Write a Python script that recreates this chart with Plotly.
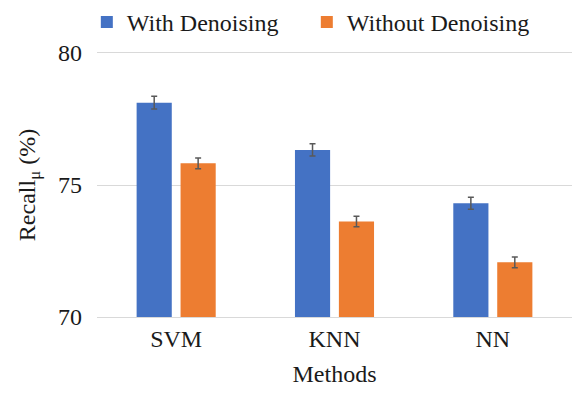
import plotly.graph_objects as go

methods = ["SVM", "KNN", "NN"]
with_denoising = [78.12, 76.33, 74.31]
with_denoising_err = [0.24, 0.23, 0.23]
without_denoising = [75.82, 73.62, 72.07]
without_denoising_err = [0.2, 0.2, 0.2]

serif = "Liberation Serif"
text_color = "#1a1a1a"

fig = go.Figure()
fig.add_trace(go.Bar(
    name="With Denoising", x=methods, y=with_denoising, legend="legend",
    marker=dict(color="#4472C4", line=dict(width=0)),
    error_y=dict(type="data", array=with_denoising_err, color="#595959", thickness=1.5, width=3),
))
fig.add_trace(go.Bar(
    name="Without Denoising", x=methods, y=without_denoising, legend="legend2",
    marker=dict(color="#ED7D31", line=dict(width=0)),
    error_y=dict(type="data", array=without_denoising_err, color="#595959", thickness=1.5, width=3),
))

legend_style = dict(orientation="h", xref="container", xanchor="left",
                    yref="container", y=1.0, yanchor="top",
                    font=dict(family=serif, size=24, color=text_color),
                    itemwidth=30, bgcolor="rgba(0,0,0,0)")

fig.update_layout(
    width=575, height=393,
    margin=dict(l=97, r=3, t=53, b=76, autoexpand=False),
    paper_bgcolor="white", plot_bgcolor="white",
    font=dict(family=serif, size=24, color=text_color),
    barmode="group", bargap=0.445, bargroupgap=0.2,
    legend=dict(x=0.151, **legend_style),
    legend2=dict(x=0.5336, **legend_style),
    showlegend=True,
)
fig.update_xaxes(
    title=dict(text="Methods", standoff=14, font=dict(family=serif, size=24, color=text_color)),
    showgrid=False, ticks="", tickfont=dict(family=serif, size=24, color=text_color),
    showline=True, mirror=True, linecolor="#d9d9d9", linewidth=1,
)
fig.update_yaxes(
    title=dict(text="Recall<sub>μ</sub> (%)", standoff=15, font=dict(family=serif, size=24, color=text_color)),
    range=[70, 80], tickvals=[70, 75, 80], showgrid=True, gridcolor="#d9d9d9", gridwidth=1,
    zeroline=False, showline=False, ticks="", ticklabelstandoff=14,
    tickfont=dict(family=serif, size=24, color=text_color),
)

fig.write_html("out.html")
